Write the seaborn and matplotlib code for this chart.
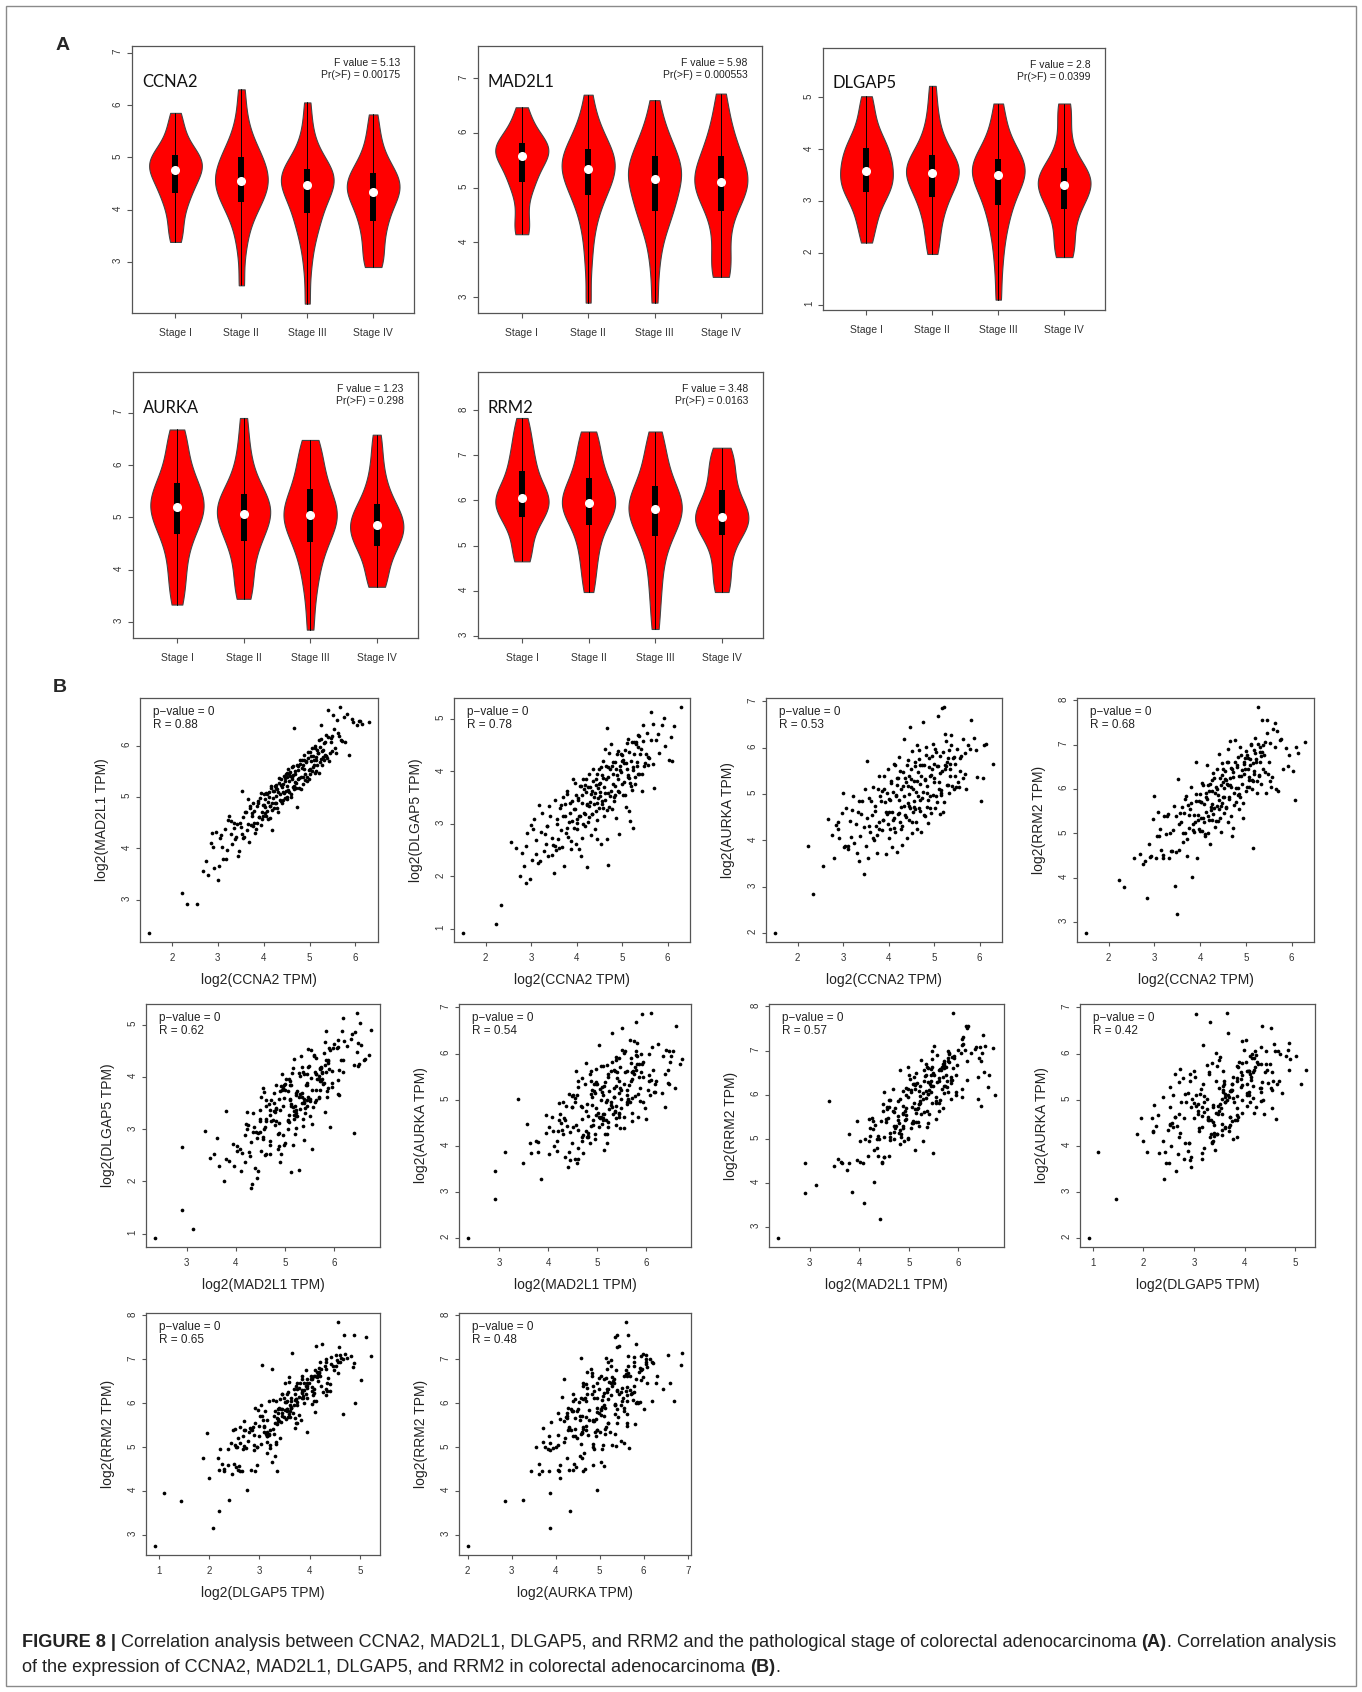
import numpy as np
import pandas as pd
import matplotlib
matplotlib.use("Agg")
import matplotlib.pyplot as plt
from matplotlib import font_manager
from matplotlib.patches import Rectangle
from matplotlib.ticker import MultipleLocator
import seaborn as sns

sns.set_style("ticks")
plt.rcParams['font.family'] = ['Liberation Sans', 'DejaVu Sans']

W, H = 1362, 1692

# ---- panel A: expression by pathological stage (samples estimated from the violins)
stages = ["Stage I", "Stage II", "Stage III", "Stage IV"]

ccna2_stage = [
    [3.38, 3.55, 3.75, 3.95, 4.1, 4.22, 4.3, 4.38, 4.48, 4.55, 4.62, 4.68, 4.73, 4.78, 4.82, 4.87, 4.92, 4.97, 5.02, 5.05, 5.12, 5.2, 5.32, 5.48, 5.65, 5.85],
    [2.55, 3.2, 3.55, 3.78, 3.95, 4.05, 4.13, 4.22, 4.3, 4.38, 4.45, 4.5, 4.53, 4.58, 4.65, 4.72, 4.8, 4.88, 4.95, 5.02, 5.1, 5.2, 5.35, 5.55, 5.85, 6.3],
    [2.2, 2.85, 3.25, 3.5, 3.68, 3.8, 3.9, 4.02, 4.15, 4.25, 4.33, 4.4, 4.45, 4.5, 4.55, 4.6, 4.65, 4.7, 4.75, 4.78, 4.85, 4.95, 5.1, 5.3, 5.6, 6.05],
    [2.9, 2.95, 3.1, 3.3, 3.5, 3.65, 3.75, 3.88, 4.0, 4.1, 4.2, 4.27, 4.32, 4.37, 4.42, 4.48, 4.53, 4.58, 4.65, 4.72, 4.8, 4.9, 5.05, 5.25, 5.5, 5.82],
]
mad2l1_stage = [
    [4.15, 4.2, 4.4, 4.65, 4.9, 5.05, 5.1, 5.2, 5.3, 5.4, 5.48, 5.55, 5.58, 5.62, 5.66, 5.7, 5.74, 5.78, 5.81, 5.86, 5.93, 6.02, 6.15, 6.3, 6.47],
    [2.9, 3.6, 4.05, 4.35, 4.55, 4.72, 4.85, 4.92, 5.0, 5.1, 5.18, 5.25, 5.32, 5.36, 5.4, 5.45, 5.52, 5.58, 5.65, 5.72, 5.78, 5.88, 6.0, 6.15, 6.35, 6.7],
    [2.9, 3.5, 3.9, 4.15, 4.35, 4.48, 4.55, 4.65, 4.75, 4.85, 4.95, 5.05, 5.12, 5.18, 5.25, 5.3, 5.36, 5.42, 5.5, 5.6, 5.68, 5.78, 5.9, 6.05, 6.25, 6.6],
    [3.37, 3.42, 3.6, 3.85, 4.1, 4.35, 4.55, 4.68, 4.78, 4.88, 4.95, 5.02, 5.08, 5.12, 5.18, 5.25, 5.32, 5.4, 5.5, 5.6, 5.7, 5.82, 5.98, 6.15, 6.4, 6.72],
]
dlgap5_stage = [
    [2.2, 2.45, 2.65, 2.8, 2.95, 3.08, 3.17, 3.22, 3.28, 3.33, 3.4, 3.48, 3.55, 3.6, 3.68, 3.75, 3.82, 3.9, 3.98, 4.04, 4.12, 4.22, 4.35, 4.55, 4.78, 5.02],
    [1.98, 2.2, 2.45, 2.65, 2.82, 2.95, 3.06, 3.15, 3.25, 3.33, 3.4, 3.47, 3.52, 3.56, 3.6, 3.64, 3.7, 3.76, 3.83, 3.9, 4.0, 4.12, 4.28, 4.5, 4.8, 5.22],
    [1.1, 1.7, 2.1, 2.4, 2.6, 2.78, 2.9, 3.02, 3.15, 3.25, 3.35, 3.42, 3.48, 3.52, 3.57, 3.62, 3.67, 3.72, 3.78, 3.83, 3.92, 4.02, 4.15, 4.35, 4.6, 4.88],
    [1.92, 1.96, 2.1, 2.3, 2.5, 2.68, 2.81, 2.92, 3.02, 3.1, 3.17, 3.23, 3.29, 3.34, 3.39, 3.44, 3.49, 3.53, 3.57, 3.65, 3.78, 3.95, 4.2, 4.5, 4.82, 4.88],
]
aurka_stage = [
    [3.33, 3.6, 3.85, 4.08, 4.3, 4.5, 4.65, 4.75, 4.85, 4.95, 5.03, 5.1, 5.17, 5.22, 5.28, 5.35, 5.42, 5.5, 5.6, 5.68, 5.8, 5.95, 6.12, 6.32, 6.55, 6.68],
    [3.44, 3.55, 3.8, 4.0, 4.2, 4.38, 4.52, 4.62, 4.72, 4.8, 4.88, 4.96, 5.03, 5.09, 5.14, 5.2, 5.26, 5.32, 5.4, 5.47, 5.58, 5.72, 5.9, 6.15, 6.45, 6.9],
    [2.85, 3.4, 3.75, 4.0, 4.2, 4.38, 4.5, 4.62, 4.72, 4.82, 4.9, 4.96, 5.01, 5.06, 5.12, 5.2, 5.28, 5.36, 5.46, 5.58, 5.7, 5.85, 6.0, 6.18, 6.38, 6.48],
    [3.67, 3.72, 3.9, 4.08, 4.22, 4.35, 4.44, 4.52, 4.58, 4.64, 4.7, 4.76, 4.82, 4.88, 4.93, 4.98, 5.05, 5.12, 5.2, 5.28, 5.4, 5.55, 5.72, 5.95, 6.25, 6.58],
]
rrm2_stage = [
    [4.65, 4.72, 4.95, 5.18, 5.38, 5.52, 5.62, 5.7, 5.78, 5.85, 5.92, 5.98, 6.02, 6.07, 6.13, 6.2, 6.3, 6.42, 6.55, 6.69, 6.82, 6.98, 7.15, 7.35, 7.58, 7.83],
    [3.97, 4.3, 4.6, 4.85, 5.05, 5.25, 5.42, 5.55, 5.65, 5.72, 5.8, 5.87, 5.93, 5.98, 6.05, 6.12, 6.2, 6.3, 6.4, 6.52, 6.65, 6.8, 6.98, 7.18, 7.4, 7.53],
    [3.15, 3.7, 4.1, 4.45, 4.75, 5.0, 5.18, 5.3, 5.42, 5.52, 5.62, 5.7, 5.78, 5.84, 5.9, 5.96, 6.03, 6.1, 6.2, 6.35, 6.48, 6.65, 6.85, 7.05, 7.3, 7.53],
    [3.97, 4.08, 4.35, 4.6, 4.82, 5.02, 5.2, 5.3, 5.38, 5.45, 5.52, 5.58, 5.62, 5.66, 5.72, 5.8, 5.9, 6.0, 6.12, 6.28, 6.42, 6.58, 6.75, 6.92, 7.08, 7.17],
]

violin_genes = ["CCNA2", "MAD2L1", "DLGAP5", "AURKA", "RRM2"]
violin_data = [ccna2_stage, mad2l1_stage, dlgap5_stage, aurka_stage, rrm2_stage]
f_values = ["5.13", "5.98", "2.8", "1.23", "3.48"]
pr_values = ["0.00175", "0.000553", "0.0399", "0.298", "0.0163"]
violin_ylims = [(2.02, 7.13), (2.71, 7.59), (0.9, 5.95), (2.69, 7.78), (2.95, 8.85)]

# ---- panel B: per-sample log2(TPM) values
ccna2 = [1.50, 2.23, 2.33, 2.55, 2.68, 2.75, 2.80, 2.85, 2.88, 2.92, 2.97, 3.00, 3.03, 3.07, 3.10,
         3.15, 3.18, 3.22, 3.25, 3.28, 3.32, 3.35, 3.38, 3.42, 3.45, 3.47, 3.50, 3.52, 3.55, 3.58,
         3.60, 3.63, 3.65, 3.68, 3.70, 3.72, 3.75, 3.78, 3.80, 3.82, 3.85, 3.87, 3.90, 3.92, 3.94,
         3.96, 3.98, 3.99, 4.02, 4.03, 4.05, 4.07, 4.08, 4.10, 4.12, 4.14, 4.15, 4.17, 4.18, 4.20,
         4.22, 4.23, 4.25, 4.27, 4.28, 4.30, 4.32, 4.33, 4.35, 4.37, 4.38, 4.40, 4.41, 4.42, 4.44,
         4.45, 4.46, 4.47, 4.48, 4.49, 4.50, 4.51, 4.52, 4.53, 4.55, 4.56, 4.58, 4.60, 4.61, 4.62,
         4.63, 4.65, 4.66, 4.67, 4.68, 4.70, 4.72, 4.73, 4.75, 4.76, 4.78, 4.80, 4.82, 4.84, 4.85,
         4.87, 4.88, 4.90, 4.92, 4.94, 4.96, 4.98, 5.00, 5.02, 5.04, 5.05, 5.07, 5.08, 5.10, 5.12,
         5.14, 5.15, 5.17, 5.19, 5.21, 5.23, 5.25, 5.27, 5.29, 5.31, 5.33, 5.35, 5.38, 5.41, 5.44,
         5.47, 5.52, 5.56, 5.60, 5.64, 5.67, 5.70, 5.75, 5.82, 5.87, 5.92, 6.03, 6.07, 6.10, 6.30,
         3.05, 3.20, 3.30, 3.40, 3.48, 3.56, 3.62, 3.66, 3.71, 3.76, 3.80, 3.84, 3.88, 3.91, 3.95,
         3.97, 4.00, 4.04, 4.06, 4.09, 4.11, 4.13, 4.16, 4.19, 4.21, 4.24, 4.26, 4.29, 4.31, 4.34,
         4.36, 4.39, 4.43, 4.46, 4.50, 4.52, 4.54, 4.57, 4.59, 4.62, 4.64, 4.66, 4.69, 4.71, 4.74,
         4.77, 4.79, 4.81, 4.83, 4.86, 4.89, 4.91, 4.93, 4.95, 4.97, 5.00, 5.03, 5.06, 5.09, 5.11,
         5.13, 5.16, 5.18, 5.20, 5.22, 5.24, 5.26, 5.28, 5.30, 5.32, 5.34, 5.37, 5.40, 5.43, 5.46,
         5.50, 5.54, 5.58, 5.63, 5.69, 2.90, 3.12, 3.36, 3.53, 3.74, 3.86, 4.01, 4.18, 4.27, 4.42,
         4.56, 4.68, 4.85, 4.99, 5.15, 5.36, 5.48, 5.78, 5.95, 6.15]
mad2l1 = [2.35, 3.12, 2.91, 2.91, 3.56, 3.75, 3.48, 4.10, 4.30, 3.62, 4.32, 3.38, 3.65, 4.25, 4.02,
          4.38, 3.80, 4.55, 4.62, 4.28, 4.08, 4.40, 4.18, 4.48, 3.85, 3.95, 4.42, 5.12, 4.60, 4.22,
          4.70, 4.35, 4.95, 4.12, 4.78, 4.45, 4.62, 4.88, 4.50, 4.30, 4.82, 4.92, 4.60, 4.98, 4.45,
          4.70, 4.85, 4.62, 4.80, 4.95, 4.62, 5.05, 4.72, 4.90, 5.10, 4.58, 4.82, 5.18, 4.35, 4.98,
          5.12, 4.78, 5.22, 4.88, 5.02, 5.15, 4.70, 5.28, 5.05, 4.92, 5.35, 5.20, 4.88, 5.25, 5.08,
          5.40, 4.98, 5.30, 5.12, 5.45, 5.22, 4.95, 5.38, 5.55, 5.10, 5.30, 5.48, 5.05, 5.35, 5.58,
          5.20, 5.42, 6.35, 5.15, 5.50, 5.28, 4.80, 5.62, 5.35, 5.52, 5.18, 5.65, 5.38, 5.72, 5.25,
          5.55, 5.82, 5.45, 5.68, 5.38, 5.75, 5.52, 5.88, 5.45, 5.70, 5.95, 5.58, 5.80, 5.62, 6.00,
          5.72, 5.50, 5.92, 5.85, 6.10, 5.68, 6.40, 5.90, 5.78, 6.05, 5.82, 6.20, 5.75, 6.70, 5.85,
          6.15, 6.60, 5.95, 6.50, 6.18, 6.75, 6.08, 6.55, 6.62, 5.82, 6.52, 6.40, 6.47, 6.48, 6.45,
          4.19, 3.96, 4.54, 4.22, 4.50, 4.20, 4.70, 4.48, 4.82, 4.43, 4.72, 4.37, 4.88, 4.61, 5.08,
          4.56, 4.85, 4.68, 5.07, 4.57, 4.99, 4.82, 5.21, 4.75, 5.12, 4.89, 5.23, 4.78, 5.10, 5.37,
          4.94, 5.23, 5.09, 5.37, 5.00, 5.47, 5.13, 5.41, 4.99, 5.38, 5.61, 5.21, 5.45, 5.17, 5.61,
          5.37, 5.71, 5.15, 5.56, 5.39, 5.71, 5.33, 5.69, 5.31, 5.88, 5.55, 5.80, 5.50, 5.72, 5.47,
          5.95, 5.63, 5.86, 5.46, 5.98, 5.74, 6.13, 5.62, 5.92, 5.71, 6.07, 5.80, 6.17, 5.69, 6.07,
          5.90, 6.33, 5.86, 6.25, 6.10, 4.02, 3.80, 4.49, 4.27, 4.69, 4.49, 5.06, 4.89, 5.17, 4.94,
          5.45, 5.29, 5.63, 5.34, 5.77, 5.79, 6.18, 6.07, 6.46, 6.42]
dlgap5 = [0.92, 1.10, 1.45, 2.65, 2.53, 2.00, 2.45, 2.20, 1.88, 2.83, 1.95, 2.97, 2.30, 3.08, 2.68,
          2.25, 3.35, 2.85, 3.20, 2.48, 2.62, 2.95, 2.38, 3.15, 2.40, 2.72, 2.07, 3.45, 2.50, 3.00,
          2.70, 3.30, 2.88, 2.55, 3.50, 2.20, 3.15, 2.92, 3.62, 2.75, 3.40, 2.52, 3.05, 3.85, 2.92,
          3.28, 2.62, 3.55, 3.08, 3.45, 2.52, 3.72, 3.15, 2.38, 3.55, 3.00, 3.85, 3.20, 2.95, 3.60,
          2.18, 3.35, 3.70, 3.12, 3.95, 3.42, 2.78, 3.62, 3.18, 3.82, 3.50, 2.90, 3.58, 3.25, 3.95,
          3.40, 2.70, 3.68, 3.48, 4.05, 3.30, 3.78, 3.52, 2.62, 3.92, 3.38, 4.20, 3.15, 3.70, 4.42,
          3.45, 3.85, 4.82, 2.70, 3.58, 2.22, 3.32, 4.05, 3.62, 4.52, 3.28, 3.95, 3.50, 4.18, 3.72,
          3.10, 4.32, 3.85, 3.62, 2.80, 4.10, 3.98, 4.30, 3.55, 4.15, 3.80, 4.40, 3.32, 4.05, 4.62,
          3.92, 3.25, 3.05, 3.72, 3.65, 4.02, 2.92, 4.55, 3.88, 4.55, 4.10, 4.68, 3.95, 4.42, 3.62,
          4.88, 4.32, 4.12, 4.25, 5.12, 4.90, 3.68, 4.60, 4.35, 4.88, 5.02, 4.22, 4.65, 4.20, 5.22,
          2.89, 2.29, 2.81, 3.33, 2.59, 3.09, 2.53, 3.36, 3.15, 2.83, 3.56, 3.04, 2.67, 3.44, 3.27,
          3.78, 2.90, 3.48, 3.14, 3.71, 2.73, 3.39, 3.66, 3.18, 3.85, 3.37, 3.03, 3.70, 3.57, 3.19,
          4.05, 3.37, 3.85, 3.07, 3.75, 3.61, 4.08, 3.30, 3.86, 3.58, 4.10, 3.26, 3.88, 4.35, 3.52,
          4.09, 3.75, 4.17, 3.43, 4.05, 3.92, 4.39, 3.60, 4.02, 4.33, 3.75, 4.22, 3.54, 4.16, 4.53,
          3.89, 4.36, 3.78, 4.19, 4.55, 4.07, 4.33, 3.75, 4.51, 4.17, 3.94, 4.66, 4.33, 3.95, 4.57,
          4.15, 4.73, 4.26, 4.59, 4.13, 2.58, 2.43, 2.95, 2.57, 3.37, 3.20, 3.01, 3.73, 3.34, 3.74,
          3.44, 4.08, 3.55, 4.19, 3.86, 4.45, 4.09, 4.70, 4.47, 4.86]
aurka = [2.00, 3.87, 2.85, 3.45, 4.47, 4.11, 3.62, 4.33, 4.25, 4.05, 4.60, 5.02, 3.85, 4.70, 3.82,
         4.42, 4.08, 4.95, 3.95, 4.35, 4.62, 3.55, 4.10, 4.85, 3.27, 4.28, 3.87, 5.72, 3.62, 4.92,
         4.18, 4.55, 5.15, 4.00, 4.75, 4.30, 3.72, 5.40, 4.40, 4.95, 4.22, 4.45, 5.10, 4.82, 3.70,
         4.58, 5.55, 4.35, 4.90, 4.25, 5.28, 4.62, 3.85, 5.05, 4.48, 5.62, 4.18, 4.95, 3.75, 5.35,
         4.60, 5.80, 4.40, 5.12, 4.72, 3.90, 5.48, 4.95, 6.18, 4.55, 5.25, 4.05, 5.62, 4.80, 5.00,
         4.45, 5.38, 6.45, 4.70, 5.15, 5.55, 4.15, 5.92, 4.62, 5.28, 4.85, 5.70, 4.40, 5.05, 6.05,
         4.25, 5.48, 5.95, 4.70, 5.22, 4.88, 4.18, 5.62, 5.05, 6.55, 4.55, 5.32, 5.85, 4.72, 5.18,
         4.38, 5.78, 5.40, 4.95, 4.60, 5.55, 6.08, 5.25, 4.70, 5.90, 4.95, 5.60, 6.68, 5.10, 4.58,
         5.45, 5.02, 6.85, 4.62, 6.88, 6.30, 5.55, 5.60, 5.70, 5.20, 5.95, 5.40, 6.28, 5.78, 5.12,
         5.65, 5.25, 5.50, 5.82, 5.35, 5.88, 5.10, 6.05, 6.60, 6.22, 5.95, 4.85, 5.35, 6.05, 5.65,
         3.88, 4.66, 3.72, 4.57, 5.11, 4.31, 4.84, 4.06, 4.64, 5.12, 4.24, 4.86, 4.43, 5.40, 4.62,
         5.03, 4.05, 4.87, 5.23, 4.45, 5.66, 4.27, 4.99, 5.35, 4.57, 4.88, 5.49, 4.31, 5.17, 4.74,
         5.35, 4.51, 5.74, 4.75, 5.33, 4.39, 5.10, 5.61, 4.67, 5.29, 4.95, 5.76, 4.63, 5.39, 4.91,
         5.62, 4.53, 5.30, 6.01, 4.87, 5.59, 4.70, 5.41, 5.82, 4.98, 5.35, 5.97, 4.83, 5.60, 5.26,
         5.82, 4.99, 5.50, 5.91, 4.82, 5.63, 6.14, 5.20, 5.77, 5.03, 5.54, 6.05, 5.17, 5.79, 5.40,
         5.98, 5.15, 5.77, 6.20, 5.43, 4.40, 3.87, 4.85, 4.49, 4.11, 5.07, 4.61, 5.20, 4.25, 5.18,
         4.71, 5.62, 5.02, 5.64, 5.08, 5.65, 5.16, 5.98, 5.37, 6.08]
rrm2 = [2.75, 3.95, 3.78, 4.45, 4.54, 4.30, 4.38, 3.55, 4.75, 4.48, 5.32, 5.85, 4.45, 5.48, 4.95,
        4.62, 4.45, 5.38, 4.98, 5.40, 4.45, 5.00, 4.60, 5.62, 3.80, 5.40, 3.17, 6.22, 4.62, 5.25,
        5.60, 4.80, 5.45, 5.00, 5.85, 4.48, 5.12, 5.55, 6.05, 4.02, 5.20, 5.42, 5.72, 6.62, 4.45,
        5.30, 5.10, 5.88, 5.35, 5.70, 5.05, 6.10, 5.25, 4.95, 5.82, 5.48, 6.55, 5.38, 5.00, 5.95,
        4.75, 5.52, 6.20, 5.30, 6.35, 5.58, 5.15, 5.90, 6.05, 5.62, 6.45, 5.28, 5.75, 6.78, 5.35,
        6.10, 5.02, 6.32, 5.68, 6.58, 5.82, 6.15, 6.02, 5.45, 6.40, 5.60, 6.62, 5.25, 6.08, 6.90,
        5.78, 6.25, 7.08, 5.38, 6.48, 4.95, 5.12, 6.38, 5.92, 7.10, 5.70, 6.55, 6.02, 6.72, 5.55,
        5.82, 6.95, 6.30, 6.12, 5.35, 6.62, 6.45, 6.85, 6.05, 6.70, 6.45, 6.28, 6.05, 6.55, 7.02,
        6.20, 4.67, 6.88, 6.40, 7.15, 6.62, 5.90, 7.85, 6.30, 6.95, 6.75, 7.55, 6.45, 7.05, 5.90,
        7.55, 6.18, 6.05, 7.35, 7.50, 6.00, 5.95, 7.10, 6.45, 6.92, 6.52, 6.40, 5.75, 6.95, 7.07,
        4.94, 4.51, 5.44, 5.07, 4.58, 5.45, 5.00, 5.78, 4.87, 5.41, 5.69, 5.07, 5.25, 5.88, 5.41,
        5.73, 5.05, 6.13, 5.35, 5.67, 4.99, 5.90, 5.78, 5.30, 6.12, 5.59, 5.96, 5.43, 6.25, 5.27,
        5.99, 5.86, 6.24, 5.62, 6.45, 5.82, 6.23, 5.56, 6.12, 6.60, 5.81, 6.08, 6.45, 6.27, 5.64,
        6.62, 6.03, 6.50, 5.86, 6.29, 6.76, 6.43, 5.69, 6.56, 6.33, 5.95, 6.77, 6.20, 6.67, 6.99,
        6.00, 6.58, 6.34, 6.81, 6.68, 6.19, 7.01, 6.32, 6.84, 6.61, 6.12, 7.00, 6.77, 6.39, 7.27,
        6.60, 7.03, 6.26, 6.95, 7.30, 4.47, 5.10, 4.59, 5.22, 5.64, 5.04, 5.71, 6.09, 5.67, 5.54,
        6.20, 6.04, 5.88, 6.69, 6.17, 6.84, 6.33, 7.12, 6.76, 6.82]

genes = {"CCNA2": ccna2, "MAD2L1": mad2l1, "DLGAP5": dlgap5, "AURKA": aurka, "RRM2": rrm2}
scatter_pairs = [("CCNA2", "MAD2L1", "0.88"), ("CCNA2", "DLGAP5", "0.78"),
                 ("CCNA2", "AURKA", "0.53"), ("CCNA2", "RRM2", "0.68"),
                 ("MAD2L1", "DLGAP5", "0.62"), ("MAD2L1", "AURKA", "0.54"),
                 ("MAD2L1", "RRM2", "0.57"), ("DLGAP5", "AURKA", "0.42"),
                 ("DLGAP5", "RRM2", "0.65"), ("AURKA", "RRM2", "0.48")]

# ---- layout (pixel boxes: left, top, right, bottom)
violin_boxes = [(132, 46, 414, 313), (478, 46, 762, 313), (823, 48, 1105, 310),
                (133, 372, 418, 638), (478, 372, 763, 638)]
scatter_boxes = [(140, 698, 378, 942), (454, 698, 690, 942), (766, 698, 1002, 942), (1077, 698, 1314, 942),
                 (146, 1004, 380, 1247), (459, 1004, 691, 1247), (769, 1004, 1004, 1247), (1080, 1004, 1315, 1247),
                 (146, 1313, 380, 1555), (459, 1313, 691, 1555)]

AXIS_GRAY = "#555555"
TEXT_GRAY = "#333333"


def add_axes_px(fig, box):
    x0, y0, x1, y1 = box
    return fig.add_axes([x0 / W, 1 - y1 / H, (x1 - x0) / W, (y1 - y0) / H])


def style_box(ax):
    for sp in ax.spines.values():
        sp.set_visible(True)
        sp.set_color(AXIS_GRAY)
        sp.set_linewidth(0.9)


def draw_violin(ax, gene, samples, fval, prval, ylim):
    df = pd.DataFrame({
        "stage": np.repeat(stages, [len(s) for s in samples]),
        "value": np.concatenate(samples),
    })
    sns.violinplot(data=df, x="stage", y="value", order=stages, ax=ax,
                   color="#ff0000", saturation=1, linecolor="#444444", linewidth=0.8,
                   inner=None, cut=0, density_norm="width", width=0.8, bw_adjust=0.75)
    # inner box: full range line, IQR bar, white median dot
    for i, s in enumerate(samples):
        q1, med, q3 = np.percentile(s, [25, 50, 75])
        ax.plot([i, i], [min(s), max(s)], color="black", lw=0.7, zorder=3)
        ax.plot([i, i], [q1, q3], color="black", lw=4.3, solid_capstyle="butt", zorder=4)
        ax.plot(i, med, "o", color="white", ms=5.5, mec="white", zorder=5)
    ax.set_xlim(-0.66, 3.62)
    ax.set_ylim(*ylim)
    ax.yaxis.set_major_locator(MultipleLocator(1))
    ax.set_xlabel("")
    ax.set_ylabel("")
    style_box(ax)
    ax.tick_params(direction="out", length=3.6, width=0.8, color=AXIS_GRAY,
                   labelsize=7.5, labelcolor=TEXT_GRAY)
    ax.tick_params(axis="x", pad=7)
    ax.tick_params(axis="y", labelrotation=90, pad=3, labelsize=7)
    ax.text(0.035, 0.865, gene, transform=ax.transAxes, fontsize=12,
            family=["Lato", "DejaVu Sans"], color="#111111", ha="left", va="center")
    ax.text(0.95, 0.955, f"F value = {fval}\nPr(>F) = {prval}", transform=ax.transAxes,
            fontsize=7.5, color="#222222", ha="right", va="top", linespacing=1.25)


def draw_scatter(ax, xname, yname, r):
    x = np.array(genes[xname])
    y = np.array(genes[yname])
    sns.scatterplot(x=x, y=y, ax=ax, s=7, color="black", linewidth=0)
    px = (x.max() - x.min()) * 0.04
    py = (y.max() - y.min()) * 0.04
    ax.set_xlim(x.min() - px, x.max() + px)
    ax.set_ylim(y.min() - py, y.max() + py)
    ax.xaxis.set_major_locator(MultipleLocator(1))
    ax.yaxis.set_major_locator(MultipleLocator(1))
    style_box(ax)
    ax.tick_params(direction="out", length=3, width=0.8, color=AXIS_GRAY,
                   labelsize=7, labelcolor=TEXT_GRAY)
    ax.tick_params(axis="x", pad=5)
    ax.tick_params(axis="y", labelrotation=90, pad=3)
    ax.set_xlabel(f"log2({xname} TPM)", fontsize=10, color="#222222", labelpad=7)
    ax.set_ylabel(f"log2({yname} TPM)", fontsize=10, color="#222222", labelpad=9)
    ax.text(0.055, 0.968, f"p\u2212value = 0\nR = {r}", transform=ax.transAxes,
            fontsize=8.5, color="#222222", ha="left", va="top", linespacing=1.15)


fig = plt.figure(figsize=(W / 100, H / 100), dpi=100)
fig.patch.set_facecolor("white")
fig.patches.append(Rectangle((6 / W, 6 / H), 1350 / W, 1680 / H, transform=fig.transFigure,
                             fill=False, edgecolor="#8a8a8a", linewidth=1.0))

for box, gene, samples, fv, pv, yl in zip(violin_boxes, violin_genes, violin_data,
                                          f_values, pr_values, violin_ylims):
    draw_violin(add_axes_px(fig, box), gene, samples, fv, pv, yl)

for box, (xn, yn, r) in zip(scatter_boxes, scatter_pairs):
    draw_scatter(add_axes_px(fig, box), xn, yn, r)

fig.text(63 / W, 1 - 45 / H, "A", fontsize=14, fontweight="bold", ha="center", va="center")
fig.text(60 / W, 1 - 688 / H, "B", fontsize=14, fontweight="bold", ha="center", va="center")

# ---- caption, drawn segment by segment so the bold parts sit inline
avail = {f.name for f in font_manager.fontManager.ttflist}
cap_family = ["Liberation Sans Narrow"] if "Liberation Sans Narrow" in avail else ["Liberation Sans"]
cap_lines = [
    [("FIGURE 8 |", "bold"),
     (" Correlation analysis between CCNA2, MAD2L1, DLGAP5, and RRM2 and the pathological stage of colorectal adenocarcinoma ", "normal"),
     ("(A)", "bold"), (". Correlation analysis", "normal")],
    [("of the expression of CCNA2, MAD2L1, DLGAP5, and RRM2 in colorectal adenocarcinoma ", "normal"),
     ("(B)", "bold"), (".", "normal")],
]
cap_y = [1642, 1667]
renderer = fig.canvas.get_renderer()


def draw_line(segments, y, size, draw=True):
    x = 22
    arts = []
    for seg, weight in segments:
        t = fig.text(x / W, 1 - y / H, seg, fontsize=size, fontweight=weight,
                     family=cap_family, color="#222222", ha="left", va="center")
        x += t.get_window_extent(renderer).width
        arts.append(t)
    if not draw:
        for t in arts:
            t.remove()
    return x - 22


base = draw_line(cap_lines[0], cap_y[0], 10, draw=False)
cap_size = 10 * 1316 / base
for segs, y in zip(cap_lines, cap_y):
    draw_line(segs, y, cap_size)

fig.savefig("out.png", dpi=100)
